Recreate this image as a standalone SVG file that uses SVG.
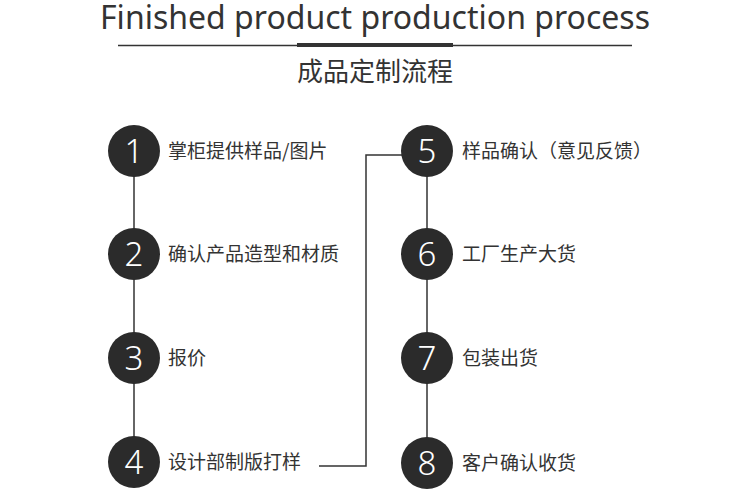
<svg xmlns="http://www.w3.org/2000/svg" width="750" height="496" viewBox="0 0 750 496">
<style>
.bg{fill:#ffffff}
.title{font-family:"Noto Sans","Open Sans","Liberation Sans",sans-serif;font-size:32px;fill:#333333}
.sub{font-family:"Noto Sans CJK SC","Noto Sans",sans-serif;font-size:26px;fill:#333333}
.dot{fill:#2b2b2b}
.num{font-family:"Noto Sans","Open Sans","Liberation Sans",sans-serif;font-size:33px;font-weight:300;fill:#ffffff;text-anchor:middle}
.lbl{font-family:"Noto Sans CJK SC","Noto Sans",sans-serif;font-size:19px;fill:#333333}
.ln{stroke:#333333;stroke-width:1.5;fill:none}
</style>
<rect class="bg" x="0" y="0" width="750" height="496"/>
<g id="header">
<text class="title" x="375" y="29" text-anchor="middle" textLength="550" lengthAdjust="spacingAndGlyphs">Finished product production process</text>
<line x1="118" y1="45.5" x2="632" y2="45.5" stroke="#333333" stroke-width="1.5"/>
<rect x="297" y="43" width="156" height="4" fill="#333333"/>
<text class="sub" x="375" y="81" text-anchor="middle">成品定制流程</text>
</g>
<g id="connectors">
<line class="ln" x1="134" y1="151" x2="134" y2="462"/>
<line class="ln" x1="427" y1="151" x2="427" y2="463"/>
<polyline class="ln" points="319,466 366,466 366,155 405,155"/>
</g>
<g id="step1"><circle class="dot" cx="134" cy="151" r="26"/><text class="num" x="134" y="163">1</text><text class="lbl" x="168" y="158">掌柜提供样品/图片</text></g>
<g id="step2"><circle class="dot" cx="134" cy="254" r="26"/><text class="num" x="134" y="266">2</text><text class="lbl" x="168" y="261">确认产品造型和材质</text></g>
<g id="step3"><circle class="dot" cx="134" cy="358" r="26"/><text class="num" x="134" y="370">3</text><text class="lbl" x="168" y="365">报价</text></g>
<g id="step4"><circle class="dot" cx="134" cy="462" r="26"/><text class="num" x="134" y="474">4</text><text class="lbl" x="168" y="469">设计部制版打样</text></g>
<g id="step5"><circle class="dot" cx="427" cy="151" r="26"/><text class="num" x="427" y="163">5</text><text class="lbl" x="462" y="158">样品确认（意见反馈）</text></g>
<g id="step6"><circle class="dot" cx="427" cy="254" r="26"/><text class="num" x="427" y="266">6</text><text class="lbl" x="462" y="261">工厂生产大货</text></g>
<g id="step7"><circle class="dot" cx="427" cy="358" r="26"/><text class="num" x="427" y="370">7</text><text class="lbl" x="462" y="365">包装出货</text></g>
<g id="step8"><circle class="dot" cx="427" cy="463" r="26"/><text class="num" x="427" y="475">8</text><text class="lbl" x="462" y="470">客户确认收货</text></g>
</svg>
